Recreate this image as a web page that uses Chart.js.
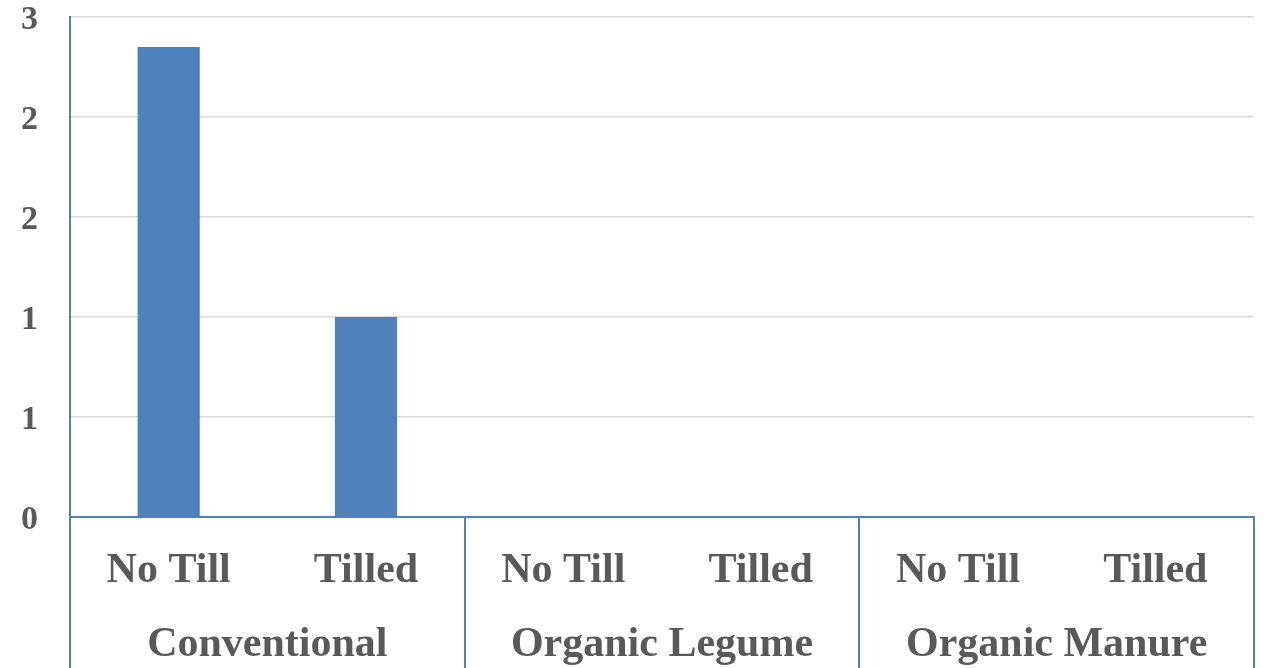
<!DOCTYPE html>
<html>
<head>
<meta charset="utf-8">
<script src="https://cdn.jsdelivr.net/npm/chart.js@4.4.1/dist/chart.umd.min.js"></script>
<style>
  html, body { margin: 0; padding: 0; background: #fff; }
  #wrap { width: 1265px; height: 668px; }
</style>
</head>
<body>
<div id="wrap"><canvas id="myChart" width="1265" height="668"></canvas></div>
<script>
const categories = ['No Till', 'Tilled', 'No Till', 'Tilled', 'No Till', 'Tilled'];
const groups = ['Conventional', 'Organic Legume', 'Organic Manure'];
const values = [2.35, 1.0, 0, 0, 0, 0];
const yTickLabels = ['0', '1', '1', '2', '2', '3'];

const blue = '#4F81BD';
const labelGray = '#595959';
const font = 'Liberation Serif, Times New Roman, serif';

// vertical separators between the groups, running from the axis to the bottom
const groupLines = {
    id: 'groupLines',
    afterDraw(chart) {
        const x = chart.scales.x;
        const c = chart.ctx;
        const per = (x.right - x.left) / categories.length;
        const span = categories.length / groups.length;
        c.save();
        c.strokeStyle = blue;
        c.lineWidth = 2;
        for (let i = 0; i <= groups.length; i++) {
            const px = Math.round(x.left + i * span * per);
            c.beginPath();
            c.moveTo(px, x.top);
            c.lineTo(px, chart.height);
            c.stroke();
        }
        c.restore();
    }
};

const ctx = document.getElementById('myChart').getContext('2d');
const myChart = new Chart(ctx, {
    type: 'bar',
    data: {
        labels: categories,
        datasets: [{
            data: values,
            backgroundColor: blue,
            borderWidth: 0,
            barPercentage: 0.315,
            categoryPercentage: 1
        }]
    },
    options: {
        responsive: false,
        animation: false,
        layout: { padding: { top: 0, right: 11, left: 0, bottom: 0 } },
        plugins: {
            legend: { display: false },
            tooltip: { enabled: false }
        },
        scales: {
            y: {
                min: 0,
                max: 2.5,
                ticks: {
                    stepSize: 0.5,
                    padding: 32,
                    labelOffset: 3,
                    color: labelGray,
                    font: { family: font, size: 34, weight: 'bold', lineHeight: 1 },
                    callback: (v, i) => yTickLabels[i]
                },
                grid: { color: '#d9d9d9', lineWidth: 1.5, drawTicks: false },
                border: { color: blue, width: 2 },
                afterFit(scale) {
                    scale.width = 70;
                    scale.paddingTop = 17;
                    scale.paddingBottom = 0;
                }
            },
            x: {
                weight: 0,
                grid: { display: false },
                border: { color: blue, width: 2 },
                ticks: {
                    padding: 21,
                    color: labelGray,
                    font: { family: font, size: 42, weight: 'bold', lineHeight: 1.2 },
                    maxRotation: 0,
                    autoSkip: false
                },
                afterFit(scale) { scale.height = 75; }
            },
            x2: {
                type: 'category',
                position: 'bottom',
                weight: 1,
                labels: groups,
                grid: { display: false },
                border: { display: false },
                ticks: {
                    padding: 20,
                    color: labelGray,
                    font: { family: font, size: 42, weight: 'bold', lineHeight: 1.2 },
                    maxRotation: 0,
                    autoSkip: false
                },
                afterFit(scale) { scale.height = 76; }
            }
        }
    },
    plugins: [groupLines]
});
</script>
</body>
</html>
